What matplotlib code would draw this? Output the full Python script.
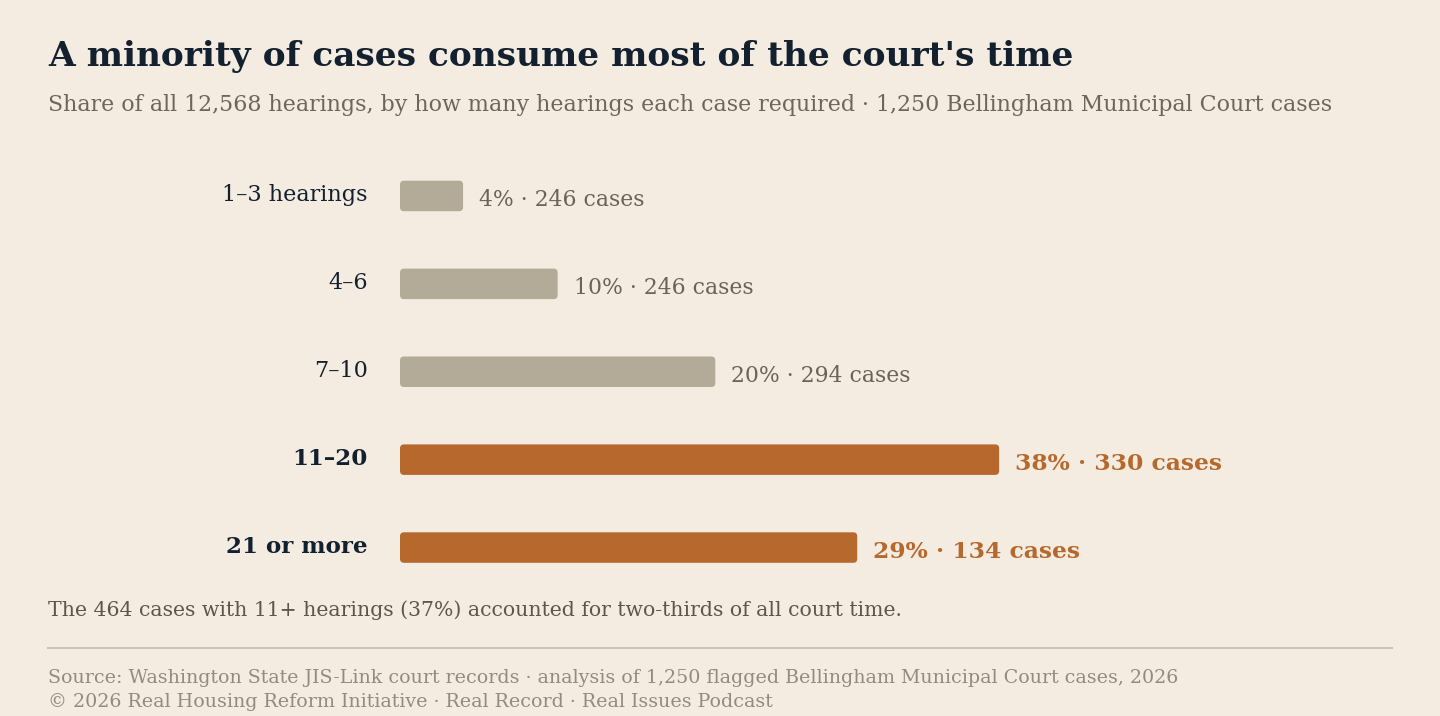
import matplotlib
matplotlib.use('Agg')
import matplotlib.pyplot as plt
from matplotlib.patches import FancyBboxPatch
from matplotlib.lines import Line2D
import matplotlib.transforms as mtransforms

# ---- data ----
categories = ["1–3 hearings", "4–6", "7–10", "11–20", "21 or more"]
share_pct = [4, 10, 20, 38, 29]
case_counts = [246, 246, 294, 330, 134]
highlight = [False, False, False, True, True]

title = "A minority of cases consume most of the court's time"
subtitle = ("Share of all 12,568 hearings, by how many hearings each case required "
            "· 1,250 Bellingham Municipal Court cases")
note = "The 464 cases with 11+ hearings (37%) accounted for two-thirds of all court time."
source1 = ("Source: Washington State JIS-Link court records · analysis of 1,250 flagged "
           "Bellingham Municipal Court cases, 2026")
source2 = "© 2026 Real Housing Reform Initiative · Real Record · Real Issues Podcast"

# ---- style ----
BG = "#f4ece1"
NAVY = "#13202f"
GREY_BAR = "#b4aa98"
ORANGE = "#b7682c"
GREY_TXT = "#6b6259"
SUB_TXT = "#6e655b"
NOTE_TXT = "#5e554c"
SRC_TXT = "#948b80"
RULE = "#cdc5b8"
FONT = ["DejaVu Serif"]

W, H, DPI = 1440, 716, 100
fig = plt.figure(figsize=(W / DPI, H / DPI), dpi=DPI)
fig.patch.set_facecolor(BG)
renderer = fig.canvas.get_renderer()


def fit(t, target_px):
    bb = t.get_window_extent(renderer=renderer)
    t.set_fontsize(t.get_fontsize() * target_px / bb.width)
    return t.get_fontsize()


def fy(px):
    return 1 - px / H


XMAX = 60
ax_left, ax_right = 400, 1346
ax_top, ax_bot = 152, 591.5
ax = fig.add_axes([ax_left / W, fy(ax_bot), (ax_right - ax_left) / W, (ax_bot - ax_top) / H])
ax.set_facecolor(BG)
ax.set_xlim(0, XMAX)
ax.set_ylim(len(categories) - 0.5, -0.5)
ax.axis("off")

xppu = (ax_right - ax_left) / XMAX
yppu = (ax_bot - ax_top) / len(categories)
rad_px = 4

colors = [ORANGE if h else GREY_BAR for h in highlight]
bars = ax.barh(range(len(categories)), share_pct, height=0.347, color=colors)
for rect, c in zip(bars, colors):
    x, y, w, h = rect.get_x(), rect.get_y(), rect.get_width(), rect.get_height()
    rect.set_visible(False)
    ax.add_patch(FancyBboxPatch((x, y), w, h,
                                boxstyle=f"round,pad=0,rounding_size={rad_px / xppu}",
                                mutation_aspect=xppu / yppu,
                                facecolor=c, edgecolor="none"))

# category labels
cat_off = mtransforms.ScaledTranslation(-32 / DPI, -5 / DPI, fig.dpi_scale_trans)
cat_texts = []
for i, (lab, hl) in enumerate(zip(categories, highlight)):
    t = ax.text(0, i, lab, transform=ax.transData + cat_off, ha="right", va="baseline",
                fontsize=16, color=NAVY, family=FONT,
                fontweight="bold" if hl else "normal")
    cat_texts.append(t)
s = fit(cat_texts[0], 146)
sb = fit(cat_texts[4], 142)
for t, hl in zip(cat_texts, highlight):
    t.set_fontsize(sb if hl else s)

# value labels
val_off = mtransforms.ScaledTranslation(16 / DPI, -10 / DPI, fig.dpi_scale_trans)
val_texts = []
for i, (v, n, hl) in enumerate(zip(share_pct, case_counts, highlight)):
    t = ax.text(v, i, f"{v}% · {n} cases", transform=ax.transData + val_off,
                ha="left", va="baseline", fontsize=16, family=FONT,
                color=ORANGE if hl else GREY_TXT,
                fontweight="bold" if hl else "normal")
    val_texts.append(t)
s = fit(val_texts[0], 165)
sb = fit(val_texts[3], 206)
for t, hl in zip(val_texts, highlight):
    t.set_fontsize(sb if hl else s)

# title etc.
t = fig.text(48 / W, fy(66), title, ha="left", va="baseline", fontsize=26,
             fontweight="bold", color=NAVY, family=FONT)
fit(t, 1029)
t = fig.text(48 / W, fy(111), subtitle, ha="left", va="baseline", fontsize=15,
             color=SUB_TXT, family=FONT)
fit(t, 1287)
t = fig.text(48 / W, fy(616), note, ha="left", va="baseline", fontsize=14,
             color=NOTE_TXT, family=FONT)
fit(t, 855)
fig.add_artist(Line2D([48 / W, 1392 / W], [fy(648), fy(648)], color=RULE, lw=1.5))
t1 = fig.text(48 / W, fy(683), source1, ha="left", va="baseline", fontsize=13,
              color=SRC_TXT, family=FONT)
s1 = fit(t1, 1127)
t2 = fig.text(48 / W, fy(707), source2, ha="left", va="baseline", fontsize=s1,
              color=SRC_TXT, family=FONT)

fig.savefig("out.png", dpi=DPI, facecolor=BG)
